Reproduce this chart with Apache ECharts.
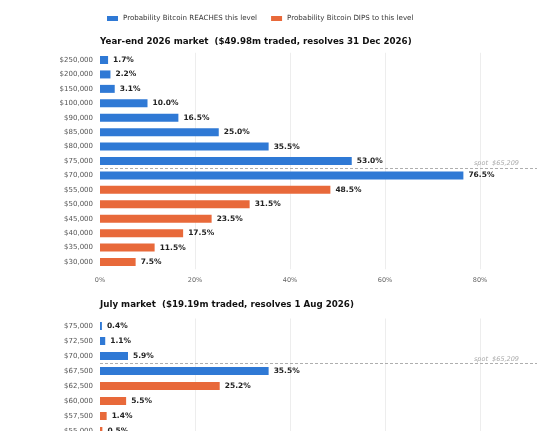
<!DOCTYPE html>
<html>
  <head>
    <meta charset="utf-8" />
    <script src="https://cdn.jsdelivr.net/npm/echarts@6/dist/echarts.min.js"></script>
    <style>
      html, body { margin: 0; padding: 0; background: #fff; }
      #main { width: 551px; height: 431px; }
    </style>
  </head>
  <body>
  <div id="main"></div>
  <script type="text/javascript">
    // year-end market
    var yearReachLevels = ['$250,000', '$200,000', '$150,000', '$100,000', '$90,000', '$85,000', '$80,000', '$75,000', '$70,000'];
    var yearReachProbs = [1.7, 2.2, 3.1, 10.0, 16.5, 25.0, 35.5, 53.0, 76.5];
    var yearDipLevels = ['$55,000', '$50,000', '$45,000', '$40,000', '$35,000', '$30,000'];
    var yearDipProbs = [48.5, 31.5, 23.5, 17.5, 11.5, 7.5];
    var yearSpotRow = 8; // dashed spot line sits above this row

    // july market
    var julyReachLevels = ['$75,000', '$72,500', '$70,000', '$67,500'];
    var julyReachProbs = [0.4, 1.1, 5.9, 35.5];
    var julyDipLevels = ['$62,500', '$60,000', '$57,500', '$55,000'];
    var julyDipProbs = [25.2, 5.5, 1.4, 0.5];
    var julySpotRow = 3;

    var spotText = 'spot  $65,209';
    var xTicks = [0, 20, 40, 60, 80];
    var xMax = 92;

    var REACH = 'Probability Bitcoin REACHES this level';
    var DIP = 'Probability Bitcoin DIPS to this level';
    var BLUE = '#2f79d5';
    var ORANGE = '#e8693a';
    var FONT = 'DejaVu Sans';

    function pad(vals, before, after) {
      var out = [];
      for (var i = 0; i < before; i++) out.push('-');
      out = out.concat(vals);
      for (var j = 0; j < after; j++) out.push('-');
      return out;
    }

    var barLabel = {
      show: true,
      position: 'right',
      distance: 5,
      fontFamily: FONT,
      fontSize: 7.5,
      fontWeight: 'bold',
      color: '#222',
      formatter: function (p) { return p.value.toFixed(1) + '%'; }
    };

    function xAxisFor(idx, showLabels) {
      return {
        type: 'value', gridIndex: idx, min: 0, max: xMax, interval: 20,
        axisLine: { show: false }, axisTick: { show: false },
        splitLine: { show: true, showMinLine: false, showMaxLine: false, lineStyle: { color: '#e8e8e8', width: 0.8 } },
        axisLabel: {
          show: showLabels, fontFamily: FONT, fontSize: 6.5, color: '#666', margin: 8,
          formatter: function (v) { return xTicks.indexOf(v) >= 0 ? v + '%' : ''; }
        }
      };
    }

    function catAxisFor(idx, cats) {
      return {
        type: 'category', gridIndex: idx, data: cats, inverse: true,
        axisLine: { show: false }, axisTick: { show: false },
        axisLabel: { fontFamily: FONT, fontSize: 7, color: '#555', margin: 7 }
      };
    }

    function rowAxisFor(idx, n) {
      return { type: 'value', gridIndex: idx, min: 0, max: n, inverse: true, show: false };
    }

    function seriesFor(idx, reach, dip, spotRow) {
      return [
        {
          name: REACH, type: 'bar', xAxisIndex: idx, yAxisIndex: idx * 2, stack: 'g' + idx,
          barWidth: 8, itemStyle: { color: BLUE },
          label: barLabel, data: pad(reach, 0, dip.length)
        },
        {
          name: DIP, type: 'bar', xAxisIndex: idx, yAxisIndex: idx * 2, stack: 'g' + idx,
          barWidth: 8, itemStyle: { color: ORANGE },
          label: barLabel, data: pad(dip, reach.length, 0)
        },
        {
          type: 'line', xAxisIndex: idx, yAxisIndex: idx * 2 + 1, data: [], silent: true,
          markLine: {
            symbol: 'none', silent: true,
            lineStyle: { color: '#999', type: [3, 2], width: 0.8 },
            label: {
              position: 'insideEndTop', formatter: spotText, fontFamily: FONT, fontSize: 6.5,
              fontStyle: 'italic', color: '#aaa', distance: [18, 1]
            },
            data: [{ yAxis: spotRow }]
          }
        }
      ];
    }

    var yearCats = yearReachLevels.concat(yearDipLevels);
    var julyCats = julyReachLevels.concat(julyDipLevels);

    var myChart = echarts.init(document.getElementById('main'));
    var option = {
      backgroundColor: '#fff',
      animation: false,
      legend: {
        data: [REACH, DIP], left: 102, top: 10, itemWidth: 11, itemHeight: 5, itemGap: 14,
        icon: 'rect',
        textStyle: { fontFamily: FONT, fontSize: 7.1, color: '#333' }
      },
      title: [
        { text: 'Year-end 2026 market  ($49.98m traded, resolves 31 Dec 2026)', left: 95, top: 32,
          textStyle: { fontFamily: FONT, fontSize: 8.7, fontWeight: 'bold', color: '#111' } },
        { text: 'July market  ($19.19m traded, resolves 1 Aug 2026)', left: 95, top: 295,
          textStyle: { fontFamily: FONT, fontSize: 8.7, fontWeight: 'bold', color: '#111' } }
      ],
      grid: [
        { left: 100, right: 14, top: 52.8, height: 216.4, outerBoundsMode: 'none' },
        { left: 100, right: 14, top: 318.5, height: 120, outerBoundsMode: 'none' }
      ],
      xAxis: [xAxisFor(0, true), xAxisFor(1, false)],
      yAxis: [
        catAxisFor(0, yearCats), rowAxisFor(0, yearCats.length),
        catAxisFor(1, julyCats), rowAxisFor(1, julyCats.length)
      ],
      series: seriesFor(0, yearReachProbs, yearDipProbs, yearSpotRow)
        .concat(seriesFor(1, julyReachProbs, julyDipProbs, julySpotRow))
    };
    myChart.setOption(option);
  </script>
</body>
</html>
